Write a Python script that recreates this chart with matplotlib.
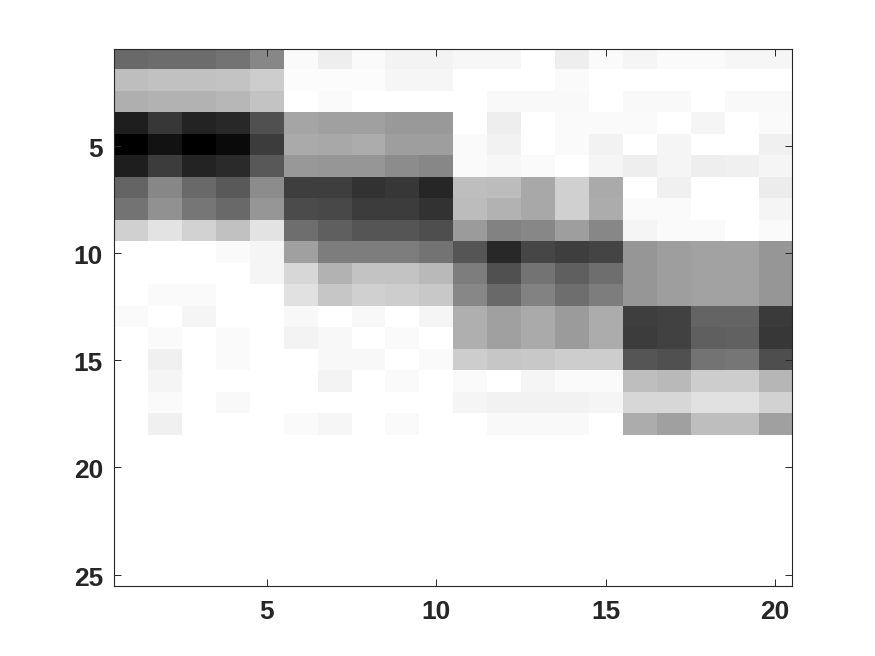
import numpy as np
import matplotlib
matplotlib.use('Agg')
import matplotlib.pyplot as plt
import matplotlib.transforms as mtransforms

plt.rcParams['font.family'] = ['Liberation Sans', 'DejaVu Sans']

fig_width = 8.75
fig_height = 6.56

# grey level of each cell, one list per row (0 black, 255 white)
row01 = [105, 108, 108, 115, 135, 250, 238, 250, 244, 244, 247, 247, 255, 238, 250, 245, 250, 250, 246, 246]
row02 = [190, 193, 193, 195, 205, 252, 252, 252, 246, 246, 255, 255, 255, 250, 255, 255, 255, 255, 255, 255]
row03 = [175, 178, 178, 183, 195, 255, 250, 255, 255, 255, 255, 249, 249, 249, 255, 249, 249, 255, 249, 249]
row04 = [30, 55, 35, 40, 80, 165, 160, 160, 153, 153, 255, 238, 255, 250, 250, 250, 255, 245, 255, 250]
row05 = [0, 18, 0, 10, 60, 170, 168, 172, 158, 158, 250, 242, 255, 250, 242, 255, 245, 255, 255, 240]
row06 = [30, 60, 35, 42, 88, 152, 150, 150, 140, 135, 250, 247, 250, 255, 245, 238, 245, 238, 240, 245]
row07 = [100, 135, 105, 90, 140, 62, 62, 50, 55, 38, 190, 188, 168, 208, 170, 255, 240, 255, 255, 236]
row08 = [115, 145, 118, 105, 150, 75, 72, 60, 60, 50, 188, 178, 168, 208, 172, 250, 250, 255, 255, 245]
row09 = [208, 228, 210, 193, 228, 110, 95, 85, 85, 78, 155, 130, 135, 158, 135, 245, 250, 250, 255, 250]
row10 = [255, 255, 255, 250, 245, 160, 125, 125, 125, 115, 85, 40, 70, 62, 68, 150, 158, 162, 162, 150]
row11 = [255, 255, 255, 255, 245, 215, 178, 195, 195, 185, 125, 80, 115, 95, 110, 150, 158, 162, 162, 150]
row12 = [255, 250, 250, 255, 255, 225, 198, 208, 205, 200, 135, 105, 130, 110, 125, 150, 158, 162, 162, 150]
row13 = [250, 255, 245, 255, 255, 248, 255, 248, 255, 245, 175, 160, 170, 155, 172, 62, 65, 100, 100, 58]
row14 = [255, 250, 255, 250, 255, 243, 248, 255, 250, 255, 175, 160, 170, 155, 172, 60, 65, 95, 98, 55]
row15 = [255, 240, 255, 250, 255, 255, 248, 248, 255, 250, 205, 198, 200, 205, 205, 85, 80, 115, 118, 78]
row16 = [255, 245, 255, 255, 255, 255, 243, 255, 250, 255, 250, 255, 245, 250, 250, 190, 185, 205, 205, 182]
row17 = [255, 250, 255, 249, 255, 255, 255, 255, 255, 255, 245, 242, 242, 242, 245, 215, 215, 225, 225, 210]
row18 = [255, 240, 255, 255, 255, 250, 246, 255, 250, 255, 255, 249, 249, 249, 255, 172, 160, 190, 190, 160]
blank = [255] * 20

levels = np.array([row01, row02, row03, row04, row05, row06, row07, row08, row09,
                   row10, row11, row12, row13, row14, row15, row16, row17, row18,
                   blank, blank, blank, blank, blank, blank, blank])

xticks = [5, 10, 15, 20]
yticks = [5, 10, 15, 20, 25]

fig = plt.figure(figsize=(fig_width, fig_height), dpi=100)
ax = fig.add_axes([114 / 875, 1 - 585.5 / 656, (792 - 114) / 875, (585.5 - 49) / 656])

ax.imshow(levels, cmap='gray', vmin=0, vmax=255, aspect='auto', interpolation='nearest',
          extent=[0.5, 20.5, 25.5, 0.5])

ax.set_xticks(xticks)
ax.set_yticks(yticks)
ax.tick_params(axis='both', direction='in', top=True, right=True, length=5, width=0.7,
               color='#262626', labelcolor='#262626', labelsize=19)
ax.tick_params(axis='y', pad=8)
ax.tick_params(axis='x', pad=10.5)
# nudge the y labels down a little to sit on their ticks
nudge = mtransforms.ScaledTranslation(0, -1.5 / 100, fig.dpi_scale_trans)
for lab in ax.get_yticklabels():
    lab.set_transform(lab.get_transform() + nudge)
for lab in ax.get_xticklabels() + ax.get_yticklabels():
    lab.set_fontweight('bold')
for sp in ax.spines.values():
    sp.set_linewidth(0.8)
    sp.set_color('#262626')

plt.savefig('out.png', dpi=100)
